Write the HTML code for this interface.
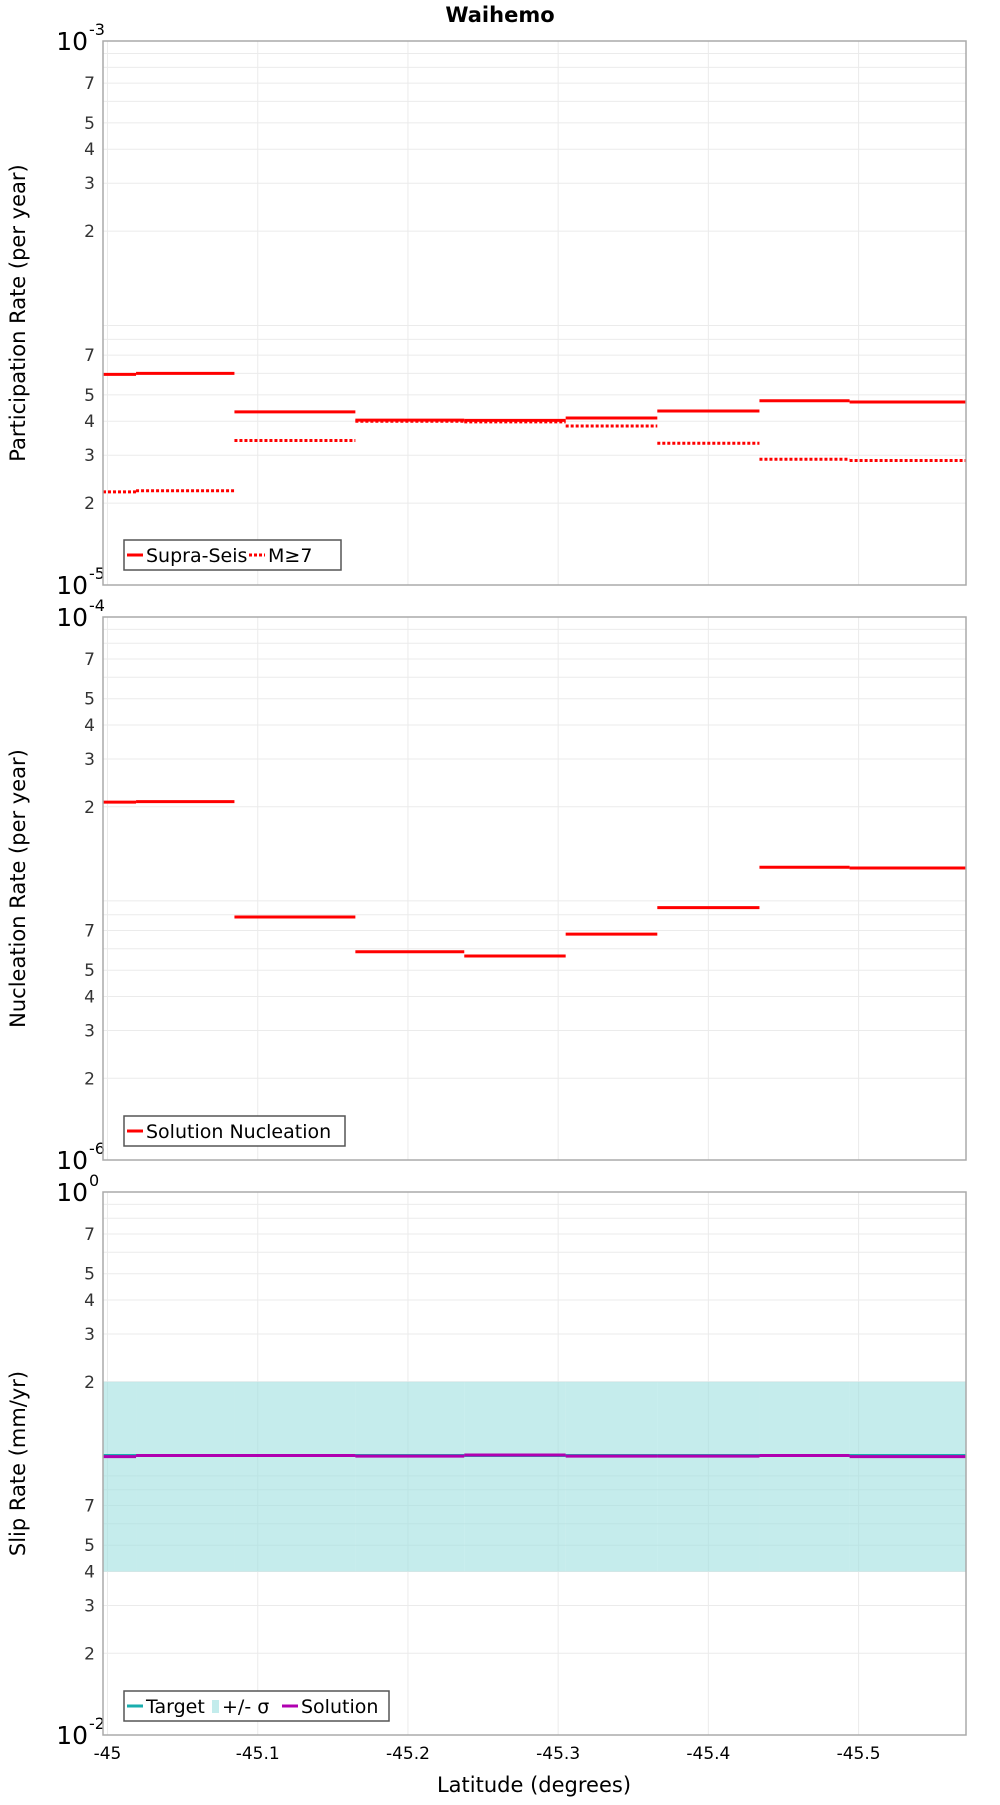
<!DOCTYPE html>
<html><head><meta charset="utf-8"><style>
body{margin:0;background:#fff}
svg text{font-family:"DejaVu Sans","Liberation Sans",sans-serif}
</style></head><body>
<svg id="c" width="1000" height="1800" viewBox="0 0 1000 1800" xmlns="http://www.w3.org/2000/svg">
<text x="500" y="22" text-anchor="middle" font-size="21" font-weight="bold">Waihemo</text>
<text x="534" y="1792" text-anchor="middle" font-size="21">Latitude (degrees)</text>
</svg>
<script>
const segStarts=[-44.997,-45.019,-45.0845,-45.165,-45.2375,-45.305,-45.366,-45.434,-45.494];
const segEnds=[-45.019,-45.0845,-45.165,-45.2375,-45.305,-45.366,-45.434,-45.494,-45.5715];
const supraSeis=[5.95e-5,6.0e-5,4.33e-5,4.04e-5,4.03e-5,4.11e-5,4.36e-5,4.76e-5,4.71e-5];
const m7=[2.20e-5,2.22e-5,3.40e-5,4.0e-5,3.98e-5,3.84e-5,3.32e-5,2.90e-5,2.87e-5];
const nucleation=[2.08e-5,2.09e-5,7.85e-6,5.85e-6,5.64e-6,6.79e-6,8.5e-6,1.197e-5,1.19e-5];
const target=[0.107,0.107,0.107,0.107,0.107,0.107,0.107,0.107,0.107];
const sigmaLow=[0.04,0.04,0.04,0.04,0.04,0.04,0.04,0.04,0.04];
const sigmaHigh=[0.2,0.2,0.2,0.2,0.2,0.2,0.2,0.2,0.2];
const solution=[0.106,0.107,0.107,0.1065,0.1075,0.1065,0.1065,0.107,0.106];
const xTicks=[-45,-45.1,-45.2,-45.3,-45.4,-45.5];
const xTickLabels=["-45","-45.1","-45.2","-45.3","-45.4","-45.5"];
const minorLabels=[2,3,4,5,7];

const NS="http://www.w3.org/2000/svg";
const svg=document.getElementById('c');
const L=103,R=966,X0=-44.997,X1=-45.5715;
function sx(v){return L+(v-X0)/(X1-X0)*(R-L);}
function mk(tag,attrs,parent){const e=document.createElementNS(NS,tag);for(const k in attrs)e.setAttribute(k,attrs[k]);(parent||svg).appendChild(e);return e;}
const panels=[
 {top:41,bot:585,d0:-3,d1:-5,title:"Participation Rate (per year)",name:"participation"},
 {top:617,bot:1160,d0:-4,d1:-6,title:"Nucleation Rate (per year)",name:"nucleation"},
 {top:1192,bot:1735,d0:0,d1:-2,title:"Slip Rate (mm/yr)",name:"slip"}];
panels.forEach((p,pi)=>{
 p.sy=v=>p.top+(p.d0-Math.log10(v))/(p.d0-p.d1)*(p.bot-p.top);
 const g=mk('g',{});
 
 
 p.g=g;
 for(let d=p.d1;d<p.d0;d++){for(let m=2;m<=9;m++){const y=p.sy(m*Math.pow(10,d));
  const gl=mk('line',{x1:L,x2:R,y1:y,y2:y,stroke:'#ebebeb','stroke-width':1},g);
  
  
  if(minorLabels.includes(m)){const t=mk('text',{x:95,y:y+6,'text-anchor':'end','font-size':17,fill:'#333'},g);t.textContent=m;
   
   }}}
 [p.d0,p.d1].forEach(d=>{const y=p.sy(Math.pow(10,d));
  const t=mk('text',{x:88,y:y+9,'text-anchor':'end','font-size':25},g);t.textContent='10';
  
  
  const s=mk('text',{x:89,y:y-6,'font-size':16},g);s.textContent=String(d);
  
  });
 xTicks.forEach((v,i)=>{const x=sx(v);
  const gl=mk('line',{x1:x,x2:x,y1:p.top,y2:p.bot,stroke:'#ebebeb','stroke-width':1},g);
  
  
  if(pi==2){const t=mk('text',{x:x,y:1759,'text-anchor':'middle','font-size':17},g);t.textContent=xTickLabels[i];
   
   }});
 const yt=mk('text',{x:0,y:0,'text-anchor':'middle','font-size':21,transform:`translate(25,${(p.top+p.bot)/2}) rotate(-90)`},g);
 yt.textContent=p.title;
 
 
});
function segs(p,vals,color,w,dash,name){vals.forEach((v,i)=>{const y=p.sy(v);
 const a={x1:sx(segStarts[i]),x2:sx(segEnds[i]),y1:y,y2:y,stroke:color,'stroke-width':w};if(dash)a['stroke-dasharray']=dash;
 const l=mk('line',a,p.g);
 
 });}
// slip band
const p3=panels[2];
sigmaLow.forEach((v,i)=>{const y1=p3.sy(sigmaHigh[i]),y2=p3.sy(v);
 const r=mk('rect',{x:sx(segStarts[i]),y:y1,width:sx(segEnds[i])-sx(segStarts[i]),height:y2-y1,fill:'#9edfdf','fill-opacity':0.6},p3.g);
 
 });
segs(panels[0],m7,'#ff0000',3,'3 2','m7-segment');
segs(panels[0],supraSeis,'#ff0000',3,null,'supra-seis-segment');
segs(panels[1],nucleation,'#ff0000',3,null,'nucleation-segment');
segs(p3,target,'#1aaeae',3,null,'target-segment');
segs(p3,solution,'#b000b0',3,null,'solution-segment');
panels.forEach(p=>{const b=mk('rect',{x:L,y:p.top,width:R-L,height:p.bot-p.top,fill:'none',stroke:'#aaa','stroke-width':1.5},p.g);
 
 });
function legend(p,y,w,items){const g=mk('g',{},p.g);
 
 
 mk('rect',{x:124,y:y,width:w,height:30,fill:'#fff',stroke:'#555','stroke-width':1.5},g);
 let x=127;items.forEach(it=>{
  if(it.box){mk('rect',{x:x,y:y+9,width:7,height:13,fill:'#c3ecec'},g);x+=10;}
  else{const a={x1:x,x2:x+16,y1:y+15,y2:y+15,stroke:it.c,'stroke-width':3};if(it.dash)a['stroke-dasharray']='3 2';mk('line',a,g);x+=19;}
  const t=mk('text',{x:x,y:y+22,'font-size':19},g);t.textContent=it.t;
  
  
  x+=it.w;});}
legend(panels[0],540,217,[{c:'#ff0000',t:'Supra-Seis',w:103},{c:'#ff0000',dash:1,t:'M≥7',w:50}]);
legend(panels[1],1116,221,[{c:'#ff0000',t:'Solution Nucleation',w:190}]);
legend(p3,1691,265,[{c:'#1aaeae',t:'Target',w:66},{box:1,t:'+/- σ',w:60},{c:'#b000b0',t:'Solution',w:90}]);
</script>
</body></html>
